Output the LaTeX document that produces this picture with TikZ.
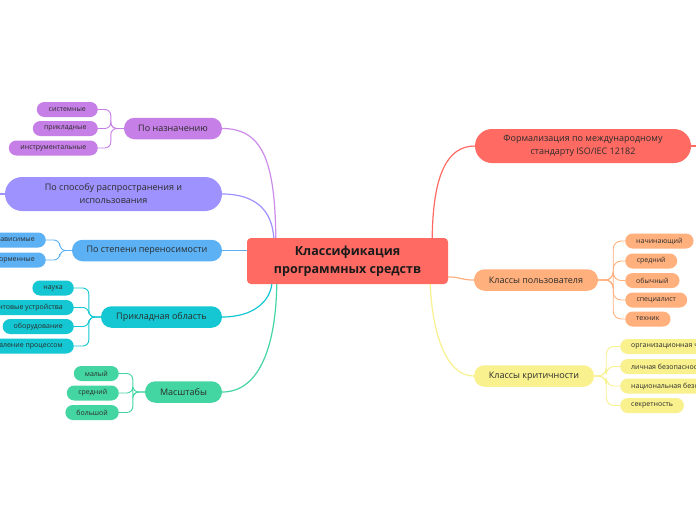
\documentclass[tikz,border=0pt]{standalone}
\usepackage{fontspec}
\setmainfont{Open Sans}
\usetikzlibrary{calc}
\definecolor{cpur}{HTML}{C67FE6}
\definecolor{clav}{HTML}{9D92FE}
\definecolor{cblu}{HTML}{5BB1F4}
\definecolor{ccya}{HTML}{14C7D2}
\definecolor{cgrn}{HTML}{44D6A2}
\definecolor{cred}{HTML}{FF6B63}
\definecolor{corg}{HTML}{FFB07C}
\definecolor{cyel}{HTML}{F8F18E}
\definecolor{ctext}{HTML}{2B2B2B}
\definecolor{cdark}{HTML}{1A1A1A}
\begin{document}
\begin{tikzpicture}[x=1pt,y=-1pt,
 rootbox/.style={fill=cred, rounded corners=4pt, font=\fontsize{12.5}{18.5}\selectfont\bfseries, text=cdark, align=center, inner sep=0pt, minimum width=201pt, minimum height=46pt},
 branch/.style={rounded corners=10.5pt, font=\fontsize{9}{13}\selectfont, text=ctext, align=center, inner sep=0pt, minimum height=21.5pt},
 tall/.style={rounded corners=17pt, minimum height=34pt},
 leaf/.style={rounded corners=7.5pt, font=\fontsize{7}{9}\selectfont, text=ctext, inner ysep=0pt, inner xsep=11pt, minimum height=15pt},
 link/.style={line width=1.2pt},
 sub/.style={line width=0.9pt, rounded corners=6pt}]
\useasboundingbox (0,0) rectangle (696,520);
\fill[white] (0,0) rectangle (696,520);

% root
\node[rootbox] (root) at (347.5,261) {Классификация\\программных средств};

% left branches
\node[branch, fill=cpur, minimum width=98pt] (naz) at (173,128.5) {По назначению};
\node[branch, tall, fill=clav, minimum width=217pt] (spo) at (113.5,194) {По способу распространения и\\использования};
\node[branch, fill=cblu, minimum width=150pt] (per) at (147,250.5) {По степени переносимости};
\node[branch, fill=ccya, minimum width=121pt] (pri) at (161.5,317) {Прикладная область};
\node[branch, fill=cgrn, minimum width=77pt] (mas) at (183.5,392) {Масштабы};

% right branches
\node[branch, tall, fill=cred, minimum width=216pt] (frm) at (583,146) {Формализация по международному\\стандарту ISO/IEC 12182};
\node[branch, fill=corg, minimum width=124pt] (pol) at (536,280) {Классы пользователя};
\node[branch, fill=cyel, minimum width=120pt] (kri) at (534,376) {Классы критичности};

% leaves: По назначению
\node[leaf, fill=cpur, anchor=east, minimum width=61pt] (n1) at (98,109.5) {системные};
\node[leaf, fill=cpur, anchor=east, minimum width=65pt] (n2) at (98,128.5) {прикладные};
\node[leaf, fill=cpur, anchor=east, minimum width=89pt] (n3) at (98,148) {инструментальные};
% leaves: По степени переносимости
\node[leaf, fill=cblu, anchor=east] (p1) at (46,240) {машинно-зависимые};
\node[leaf, fill=cblu, anchor=east] (p2) at (46,260) {кроссплатформенные};
% leaves: Прикладная область
\node[leaf, fill=ccya, anchor=east, minimum width=41pt] (a1) at (74,288) {наука};
\node[leaf, fill=ccya, anchor=east] (a2) at (74,307.5) {клиентовые устройства};
\node[leaf, fill=ccya, anchor=east, minimum width=70pt] (a3) at (74,326.5) {оборудование};
\node[leaf, fill=ccya, anchor=east] (a4) at (74,346) {управление процессом};
% leaves: Масштабы
\node[leaf, fill=cgrn, anchor=east, minimum width=45pt] (m1) at (119,373.5) {малый};
\node[leaf, fill=cgrn, anchor=east, minimum width=52pt] (m2) at (119,393) {средний};
\node[leaf, fill=cgrn, anchor=east, minimum width=52pt] (m3) at (119,412.5) {большой};
% leaves: Классы пользователя
\node[leaf, fill=corg, anchor=west, minimum width=67pt] (u1) at (625,241) {начинающий};
\node[leaf, fill=corg, anchor=west, minimum width=52pt] (u2) at (625,261) {средний};
\node[leaf, fill=corg, anchor=west, minimum width=54pt] (u3) at (625,280.5) {обычный};
\node[leaf, fill=corg, anchor=west, minimum width=62pt] (u4) at (625,300) {специалист};
\node[leaf, fill=corg, anchor=west, minimum width=45pt] (u5) at (625,319) {техник};
% leaves: Классы критичности
\node[leaf, fill=cyel, anchor=west] (k1) at (620,346.5) {организационная честность};
\node[leaf, fill=cyel, anchor=west] (k2) at (620,366.5) {личная безопасность};
\node[leaf, fill=cyel, anchor=west] (k3) at (620,386) {национальная безопасность};
\node[leaf, fill=cyel, anchor=west, minimum width=63pt] (k4) at (620,405.5) {секретность};

% main connectors
\draw[link, cpur!90] (naz.east) .. controls (262,128.5) and (275,160) .. ($(root.north west)+(29,0)$);
\draw[link, clav] (spo.east) .. controls (255,194) and (272,210) .. ($(root.north west)+(27,0)$);
\draw[link, cblu] (per.east) -- (per.east -| root.west);
\draw[link, ccya] (pri.east) .. controls (255,317) and (270,300) .. ($(root.south west)+(25,0)$);
\draw[link, cgrn] (mas.east) .. controls (262,392) and (276,340) .. ($(root.south west)+(30,0)$);
\draw[link, cred] (frm.west) .. controls (447,146) and (433,175) .. ($(root.north east)+(-16,0)$);
\draw[link, corg] ($(root.east)+(0,16)$) .. controls (461,277) and (461,280) .. (pol.west);
\draw[link, cyel] (kri.west) .. controls (445,376) and (432,330) .. ($(root.south east)+(-18,0)$);
\coordinate (frmend) at (696,146);
\coordinate (spoend) at (0,194);
\draw[link, cred] (frm.east) -- (frmend);
\draw[link, clav] (spo.west) -- (spoend);

% sub connectors
\foreach \c in {n1,n2,n3} \draw[sub, cpur] (naz.west) -- ++(-13,0) |- (\c.east);
\foreach \c in {p1,p2} \draw[sub, cblu] (per.west) -- ++(-12,0) |- (\c.east);
\foreach \c in {a1,a2,a3,a4} \draw[sub, ccya] (pri.west) -- ++(-12,0) |- (\c.east);
\foreach \c in {m1,m2,m3} \draw[sub, cgrn] (mas.west) -- ++(-12,0) |- (\c.east);
\foreach \c in {u1,u2,u3,u4,u5} \draw[sub, corg, rounded corners=8pt] (pol.east) -- ++(15,0) |- (\c.west);
\foreach \c in {k1,k2,k3,k4} \draw[sub, cyel, rounded corners=8pt] (kri.east) -- ++(12,0) |- (\c.west);
\end{tikzpicture}
\end{document}
